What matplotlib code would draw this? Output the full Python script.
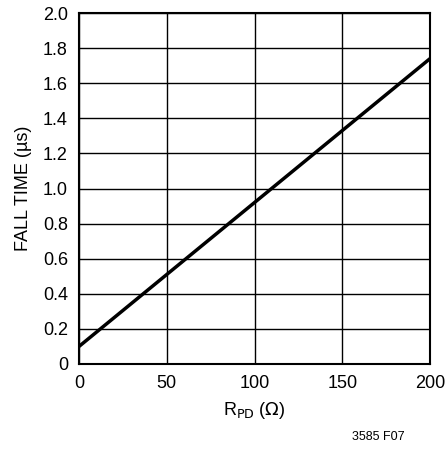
import matplotlib
matplotlib.use('Agg')
import matplotlib.pyplot as plt
from matplotlib import font_manager

# fuente angosta si existe
nombres = {f.name for f in font_manager.fontManager.ttflist}
if 'Liberation Sans Narrow' in nombres:
    plt.rcParams['font.family'] = ['Liberation Sans Narrow', 'DejaVu Sans']
else:
    plt.rcParams['font.family'] = ['Liberation Sans', 'DejaVu Sans']

r_pd = [0, 200]
fall_time = [0.10, 1.74]

x_ticks = [0, 50, 100, 150, 200]
y_ticks = [0, 0.2, 0.4, 0.6, 0.8, 1.0, 1.2, 1.4, 1.6, 1.8, 2.0]
y_labels = ['0', '0.2', '0.4', '0.6', '0.8', '1.0', '1.2', '1.4', '1.6', '1.8', '2.0']

fig = plt.figure(figsize=(4.47, 4.49), dpi=100)
ax = fig.add_axes([79 / 447, 1 - 364 / 449, 351 / 447, 351 / 449])

ax.plot(r_pd, fall_time, color='black', linewidth=2.5, solid_capstyle='butt')

ax.set_xlim(0, 200)
ax.set_ylim(0, 2.0)
ax.set_xticks(x_ticks)
ax.set_xticklabels([str(v) for v in x_ticks])
ax.set_yticks(y_ticks)
ax.set_yticklabels(y_labels)
ax.tick_params(length=0, labelsize=13, pad=8)
ax.grid(True, color='black', linewidth=1.0)
for lado in ax.spines.values():
    lado.set_linewidth(1.5)

ax.set_xlabel(r'R$_{\mathrm{PD}}$ ($\Omega$)', fontsize=13, labelpad=6)
ax.set_ylabel('FALL TIME (µs)', fontsize=13, labelpad=8)

fig.text(405 / 447, 1 - 437 / 449, '3585 F07', fontsize=9, ha='right', va='center')

fig.savefig('out.png', dpi=100)
